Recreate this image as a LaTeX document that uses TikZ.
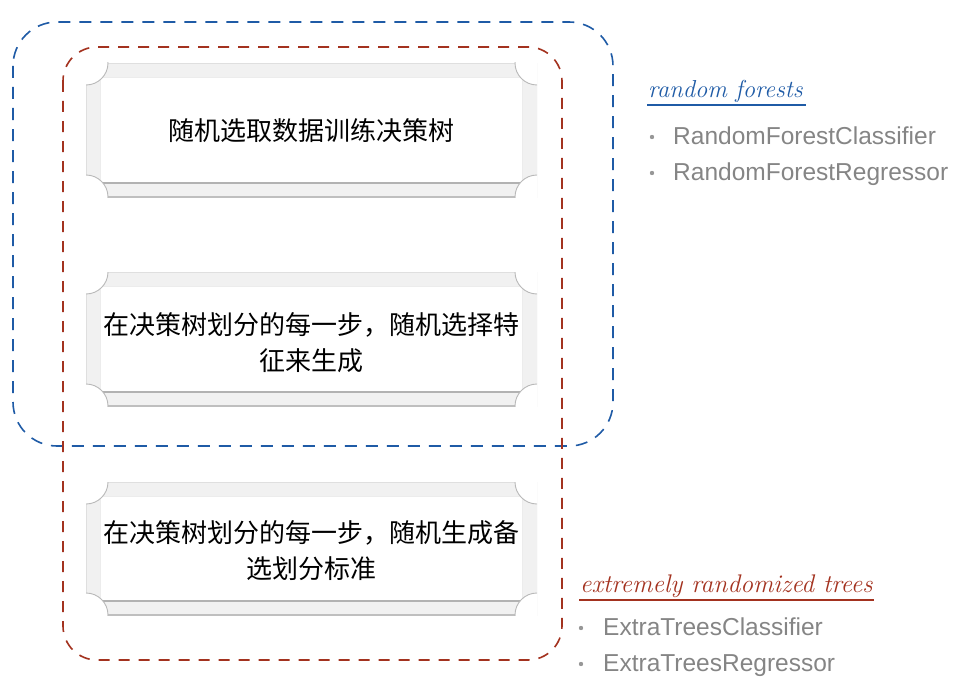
\documentclass[tikz,border=0pt]{standalone}
\usepackage{fontspec}
\setsansfont{Liberation Sans}
\newfontfamily\cjk{Noto Sans CJK SC}
\definecolor{rfblue}{HTML}{1F5BA6}
\definecolor{etred}{HTML}{A3321F}
\definecolor{listgray}{HTML}{858585}
\definecolor{framegray}{HTML}{F1F1F1}
\newcommand\scrollframe[4]{%
  \begin{scope}
    \clip (#1,#2) rectangle (#3,#4);
    \fill[framegray] (#1,#2) rectangle (#3,#4);
    \draw[gray!25] (#1,#2) rectangle (#3,#4);
    \fill[white] (#1+14,#2+14) rectangle (#3-15,#4-14);
    \draw[gray!15] (#1+14,#2+14) rectangle (#3-15,#4-14);
    \draw[gray!60, line width=1.1pt] (#1+14,#4-14) -- (#3-15,#4-14);
    \draw[gray!50, line width=1.6pt] (#1,#4) -- (#3,#4);
    \foreach \cx/\cy in {#1/#2,#3/#2,#1/#4,#3/#4}{%
      \fill[white] (\cx,\cy) circle (22pt);
      \draw[gray!55, line width=0.9pt] (\cx,\cy) circle (22pt);}
  \end{scope}}
\tikzset{
  boxtext/.style={font=\cjk\fontsize{26}{36}\selectfont, align=center, inner sep=0pt},
  hand/.style={font=\rmfamily\itshape\fontsize{24.5}{26}\selectfont, anchor=base west, inner sep=0pt},
  listtext/.style={font=\sffamily\fontsize{24.5}{28}\selectfont, text=listgray, anchor=base west, inner sep=0pt},
  bullet/.style={circle, fill=listgray!85, inner sep=0pt, minimum size=4.4pt},
  blueframe/.style={draw=rfblue, line width=1.6pt, dash pattern=on 12pt off 9pt, rounded corners=44pt},
  redframe/.style={draw=etred, line width=1.6pt, dash pattern=on 11pt off 9pt, rounded corners=34pt},
}
\begin{document}
\begin{tikzpicture}[x=1pt,y=-1pt]
\useasboundingbox (0,0) rectangle (962,685);
% scroll boxes
\scrollframe{86}{63}{537}{197}
\scrollframe{86}{272}{537}{406}
\scrollframe{86}{482}{537}{615}
\node[boxtext] (t1) at (311.5,131) {随机选取数据训练决策树};
\node[boxtext] (t2) at (311.5,343) {在决策树划分的每一步，随机选择特\\征来生成};
\node[boxtext] (t3) at (311.5,551) {在决策树划分的每一步，随机生成备\\选划分标准};
% dashed groups
\draw[blueframe] (13,22) rectangle (613,446);
\draw[redframe] (63,47) rectangle (562,660);
% random forests label
\node[hand, text=rfblue, font=\rmfamily\itshape\fontsize{24.5}{26}\selectfont] (rf) at (648,98) {random forests};
\coordinate (rfa) at (647,105);
\coordinate (rfb) at (806,105);
\draw[rfblue, line width=1.5pt] (rfa) -- (rfb);
\node[bullet] (d1) at (652,137) {};
\node[listtext] (rfc) at (673,144) {RandomForestClassifier};
\node[bullet] (d2) at (652,173) {};
\node[listtext] (rfr) at (673,180) {RandomForestRegressor};
% extremely randomized trees label
\node[hand, text=etred, font=\rmfamily\itshape\fontsize{25.5}{28}\selectfont] (et) at (580,592) {extremely randomized trees};
\coordinate (eta) at (579,600);
\coordinate (etb) at (874,600);
\draw[etred, line width=1.5pt] (eta) -- (etb);
\node[bullet] (d3) at (581,628) {};
\node[listtext] (etc) at (603,635) {ExtraTreesClassifier};
\node[bullet] (d4) at (581,664) {};
\node[listtext] (etr) at (603,671) {ExtraTreesRegressor};
\end{tikzpicture}
\end{document}
